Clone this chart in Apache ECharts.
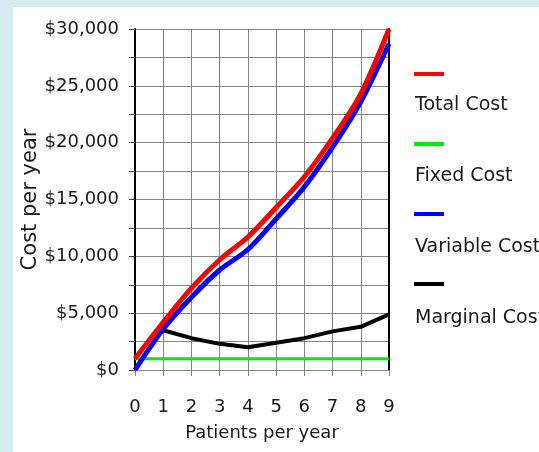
<!DOCTYPE html>
<html>
<head>
<meta charset="utf-8">
<style>
  html, body { margin: 0; padding: 0; background: #d5eaee; }
  #panel { position: absolute; left: 13px; top: 7px; width: 526px; height: 445px; background: #fff; }
  #chart { position: absolute; left: 0; top: 0; width: 539px; height: 452px; }
</style>
</head>
<body>
<div id="panel"></div>
<div id="chart"></div>
<script src="https://cdn.jsdelivr.net/npm/echarts@6/dist/echarts.min.js"></script>
<script>
const patients = [0, 1, 2, 3, 4, 5, 6, 7, 8, 9];
const totalCost = [1000, 4200, 7200, 9700, 11700, 14300, 17000, 20400, 24300, 30000];
const fixedCost = [1000, 1000, 1000, 1000, 1000, 1000, 1000, 1000, 1000, 1000];
const variableCost = [0, 3600, 6400, 8800, 10600, 13300, 16100, 19600, 23600, 28700];
const marginalCost = [null, 3500, 2800, 2300, 2000, 2400, 2800, 3400, 3800, 4900];
const seriesNames = ['Total Cost', 'Fixed Cost', 'Variable Cost', 'Marginal Cost'];

const font = 'DejaVu Sans';
const textColor = '#1a1a1a';
const gridColor = '#858585';

const pairs = (vals) => patients.map((p, i) => [p, vals[i]]);

const chart = echarts.init(document.getElementById('chart'));

const makeLine = (name, vals, color, width, smooth, z) => ({
    name: name,
    type: 'line',
    data: pairs(vals),
    showSymbol: false,
    smooth: smooth,
    connectNulls: false,
    z: z,
    color: color,
    lineStyle: { color: color, width: width },
    emphasis: { disabled: true }
});

const option = {
    animation: false,
    backgroundColor: 'transparent',
    textStyle: { fontFamily: font },
    grid: { left: 135, right: 150, top: 29, bottom: 82 },
    legend: [
        {
            // line keys
            data: seriesNames,
            orient: 'vertical',
            left: 414,
            top: 72,
            padding: 0,
            icon: 'rect',
            itemWidth: 30,
            itemHeight: 4,
            itemGap: 66,
            selectedMode: false,
            formatter: () => '',
            textStyle: { fontSize: 1, lineHeight: 1 }
        },
        {
            // key labels, below each line
            data: seriesNames,
            orient: 'vertical',
            left: 409,
            top: 95,
            padding: 0,
            itemWidth: 0,
            itemHeight: 0,
            itemGap: 51,
            selectedMode: false,
            textStyle: { fontFamily: font, fontSize: 19, lineHeight: 20, color: textColor }
        }
    ],
    xAxis: {
        type: 'value',
        min: 0,
        max: 9,
        interval: 1,
        name: 'Patients per year',
        nameLocation: 'middle',
        nameGap: 54,
        nameTextStyle: { fontFamily: font, fontSize: 18, color: textColor },
        axisLine: { show: true, lineStyle: { color: gridColor, width: 1 } },
        axisTick: { show: true, length: 6, lineStyle: { color: gridColor } },
        axisLabel: { fontFamily: font, fontSize: 18, color: textColor, margin: 28 },
        splitLine: { show: true, lineStyle: { color: gridColor, width: 1 } }
    },
    yAxis: [
        {
            type: 'value',
            min: 0,
            max: 30000,
            interval: 2500,
            name: 'Cost per year',
            nameLocation: 'middle',
            nameGap: 93,
            nameTextStyle: { fontFamily: font, fontSize: 21, color: textColor },
            axisLine: { show: true, lineStyle: { color: '#000', width: 2 } },
            axisTick: { show: true, length: 6, lineStyle: { color: '#444' } },
            axisLabel: {
                fontFamily: font,
                fontSize: 18,
                color: textColor,
                margin: 16,
                formatter: (v) => (v % 5000 === 0 ? '$' + v.toLocaleString('en-US') : '')
            },
            splitLine: { show: true, lineStyle: { color: gridColor, width: 1 } }
        },
        {
            type: 'value',
            position: 'right',
            min: 0,
            max: 30000,
            interval: 2500,
            axisLine: { show: true, lineStyle: { color: '#000', width: 2 } },
            axisTick: { show: false },
            axisLabel: { show: false },
            splitLine: { show: false }
        }
    ],
    series: [
        makeLine('Fixed Cost', fixedCost, '#00ee00', 3, false, 2),
        makeLine('Variable Cost', variableCost, '#0000ff', 5, 0.3, 3),
        makeLine('Total Cost', totalCost, '#ff0000', 5, 0.3, 4),
        makeLine('Marginal Cost', marginalCost, '#000000', 4, false, 5)
    ]
};

chart.setOption(option);
</script>
</body>
</html>
